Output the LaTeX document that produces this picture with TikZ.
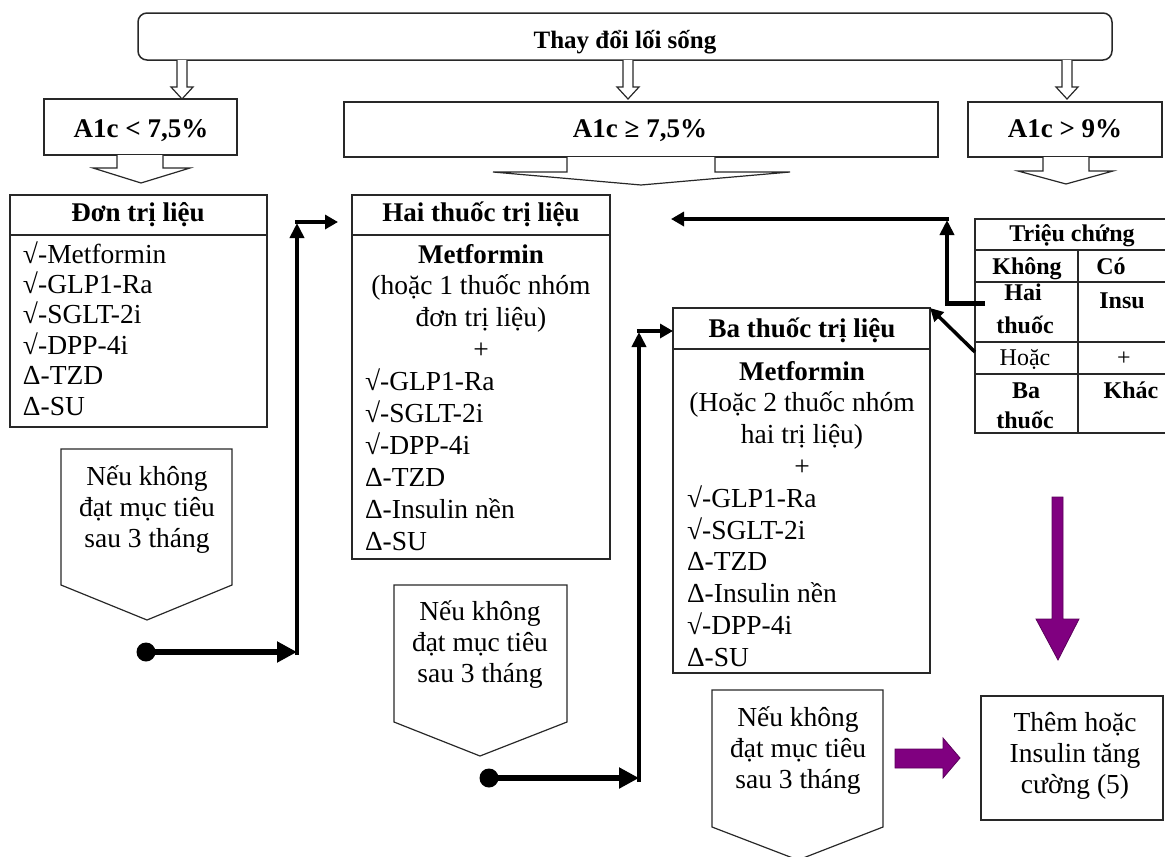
\documentclass[tikz,border=0pt]{standalone}
\usepackage{fontspec}
\setmainfont{Liberation Serif}
\usetikzlibrary{arrows.meta}
\definecolor{purp}{RGB}{128,0,128}
\definecolor{edge}{RGB}{40,40,40}
\newcommand\fbody{\fontsize{27.5}{31}\selectfont}
\newcommand\fhead{\fontsize{27}{31}\selectfont\bfseries}
\newcommand\ftop{\fontsize{25}{30}\selectfont\bfseries}
\newcommand\ftab{\fontsize{24}{28}\selectfont}
\begin{document}
\begin{tikzpicture}[x=1pt,y=-1pt,
  every node/.style={inner sep=0pt,outer sep=0pt},
  frame/.style={draw=edge,line width=1.5pt},
  pent/.style={draw=edge,line width=1.2pt,line join=miter},
  hollow/.style={draw=edge,line width=1.2pt,fill=white,line join=miter},
  txt/.style={font=\fbody,anchor=base},
  txtl/.style={font=\fbody,anchor=base west},
  head/.style={font=\fhead,anchor=base},
  tab/.style={font=\ftab,anchor=base},
  tabb/.style={font=\ftab\bfseries,anchor=base},
  dotnode/.style={circle,fill=black,minimum size=19pt},
  hconn/.style={line width=6pt,-{Triangle[length=20pt,width=20pt]}},
  vconn/.style={line width=4.5pt,-{Triangle[length=15pt,width=14pt]}},
  tconn/.style={line width=4.5pt,-{Triangle[length=13pt,width=14pt]}},
  dconn/.style={line width=3.5pt,-{Triangle[length=13pt,width=13pt]}},
  purparrow/.style={fill=purp,draw=purp!70!black,line width=0.8pt,line join=miter}
]
\useasboundingbox (0,0) rectangle (1165,857);

% top box
\node[frame,rounded corners=9pt,minimum width=974pt,minimum height=47pt,anchor=north west] (life) at (138,13) {};
\node[font=\ftop,anchor=base] (lifet) at (625,48) {Thay đổi lối sống};

% small hollow arrows
\foreach \cx in {182,628,1067}{
  \draw[hollow] (\cx-5,60) -- (\cx-5,87) -- (\cx-11,87) -- (\cx,99) -- (\cx+11,87) -- (\cx+5,87) -- (\cx+5,60);
}

% A1c boxes
\node[frame,minimum width=193pt,minimum height=56pt,anchor=north west] (a1) at (44,99) {};
\node[head] (a1t) at (141,137) {A1c < 7,5\%};
\node[frame,minimum width=594pt,minimum height=55pt,anchor=north west] (a2) at (344,102) {};
\node[head] (a2t) at (640,137) {A1c ≥ 7,5\%};
\node[frame,minimum width=194pt,minimum height=55pt,anchor=north west] (a3) at (968,102) {};
\node[head] (a3t) at (1065,137) {A1c > 9\%};

% block arrows under A1c boxes
\draw[hollow] (117,155) -- (117,168) -- (93,168) -- (141,183) -- (190,168) -- (163,168) -- (163,155);
\draw[hollow] (567,157) -- (567,172) -- (493,172) -- (641,185) -- (790,172) -- (715,172) -- (715,157);
\draw[hollow] (1043,157) -- (1043,171) -- (1018,171) -- (1066,184) -- (1113,171) -- (1089,171) -- (1089,157);

% Don tri lieu
\node[frame,minimum width=257pt,minimum height=232pt,anchor=north west] (don) at (10,195) {};
\draw[frame] (don.west |- 0,235) -- (don.east |- 0,235);
\node[head] (dont) at (138,221) {Đơn trị liệu};
\foreach \t [count=\i from 0] in {√-Metformin,√-GLP1-Ra,√-SGLT-2i,√-DPP-4i,Δ-TZD,Δ-SU}{
  \node[txtl] (don-\i) at (23,263+30.4*\i) {\t};
}

% Hai thuoc tri lieu
\node[frame,minimum width=258pt,minimum height=364pt,anchor=north west] (hai) at (352,195) {};
\draw[frame] (hai.west |- 0,235) -- (hai.east |- 0,235);
\node[head] (hait) at (481,221) {Hai thuốc trị liệu};
\node[head] (hai-0) at (481,263) {Metformin};
\node[txt] (hai-1) at (481,294.9) {(hoặc 1 thuốc nhóm};
\node[txt] (hai-2) at (481,326.8) {đơn trị liệu)};
\node[txt] (hai-3) at (481,358.7) {+};
\foreach \t [count=\i from 4] in {√-GLP1-Ra,√-SGLT-2i,√-DPP-4i,Δ-TZD,Δ-Insulin nền,Δ-SU}{
  \node[txtl] (hai-\i) at (365,263+31.9*\i) {\t};
}

% Ba thuoc tri lieu
\node[frame,minimum width=257pt,minimum height=365pt,anchor=north west] (ba) at (673,308) {};
\draw[frame] (ba.west |- 0,349) -- (ba.east |- 0,349);
\node[head] (bat) at (802,337) {Ba thuốc trị liệu};
\node[head] (ba-0) at (802,380) {Metformin};
\node[txt] (ba-1) at (802,411.8) {(Hoặc 2 thuốc nhóm};
\node[txt] (ba-2) at (802,443.6) {hai trị liệu)};
\node[txt] (ba-3) at (802,475.4) {+};
\foreach \t [count=\i from 4] in {√-GLP1-Ra,√-SGLT-2i,Δ-TZD,Δ-Insulin nền,√-DPP-4i,Δ-SU}{
  \node[txtl] (ba-\i) at (687,380+31.8*\i) {\t};
}

% table
\node[frame,minimum width=192pt,minimum height=214pt,anchor=north west] (tbl) at (975,219) {};
\foreach \yy in {250,282,342,374}{\draw[frame] (975,\yy) -- (1167,\yy);}
\draw[frame] (1078,250) -- (1078,433);
\node[tabb] (tb-h) at (1072,241) {Triệu chứng};
\node[tabb] (tb-k) at (1027,274) {Không};
\node[tabb] (tb-c) at (1111,274) {Có};
\node[tabb] (tb-h1) at (1023,300) {Hai};
\node[tabb] (tb-h2) at (1025,333) {thuốc};
\node[tabb] (tb-i) at (1122,308) {Insu};
\node[tab] (tb-o) at (1025,365) {Hoặc};
\node[tab] (tb-p) at (1124,365) {+};
\node[tabb] (tb-b1) at (1026,398) {Ba};
\node[tabb] (tb-b2) at (1025,428) {thuốc};
\node[tabb] (tb-kh) at (1131,398) {Khác};

% pentagons
\draw[pent] (61,449) -- (232,449) -- (232,585) -- (147,620) -- (61,585) -- cycle;
\node[txt] (p1a) at (147,485) {Nếu không};
\node[txt] (p1b) at (147,516) {đạt mục tiêu};
\node[txt] (p1c) at (147,547) {sau 3 tháng};
\draw[pent] (394,585) -- (567,585) -- (567,722) -- (480,756) -- (394,722) -- cycle;
\node[txt] (p2a) at (480,620) {Nếu không};
\node[txt] (p2b) at (480,651) {đạt mục tiêu};
\node[txt] (p2c) at (480,682) {sau 3 tháng};
\draw[pent] (712,690) -- (883,690) -- (883,827) -- (798,860) -- (712,827) -- cycle;
\node[txt] (p3a) at (798,726) {Nếu không};
\node[txt] (p3b) at (798,757) {đạt mục tiêu};
\node[txt] (p3c) at (798,788) {sau 3 tháng};

% final box
\node[frame,minimum width=182pt,minimum height=124pt,anchor=north west] (fin) at (981,696) {};
\node[txt] (fin-a) at (1075,731) {Thêm hoặc};
\node[txt] (fin-b) at (1075,762) {Insulin tăng};
\node[txt] (fin-c) at (1075,793) {cường (5)};

% connector 1
\node[dotnode] (dot1) at (146,652) {};
\coordinate (v1b) at (297,655);
\coordinate (v1t) at (297,223);
\coordinate (e1) at (338,222);
\draw[hconn] (dot1.center) -- (v1b |- dot1.center);
\draw[vconn] (v1b) -- (v1t);
\draw[tconn] ([xshift=-2.25pt]v1t |- e1) -- (e1);

% connector 2
\node[dotnode] (dot2) at (489,778) {};
\coordinate (v2b) at (639,782);
\coordinate (v2t) at (639,332);
\draw[hconn] (dot2.center) -- (v2b |- dot2.center);
\draw[vconn] (v2b) -- (v2t);
\draw[tconn] ([xshift=-2.25pt]v2t |- 0,331) -- (ba.west |- 0,331);

% connector from table
\coordinate (t1) at (985,303);
\coordinate (t2) at (947,303);
\coordinate (t3) at (947,220);
\coordinate (e3) at (671,219);
\draw[line width=5pt] (t1) -- ([xshift=-2.5pt]t2);
\draw[vconn] ([yshift=2pt]t2) -- (t3);
\draw[tconn] ([xshift=2.25pt]t3 |- e3) -- (e3);
\coordinate (t4) at (975,352);
\draw[dconn] (t4) -- (ba.north east);

% purple arrows
\draw[purparrow] (1052,497) -- (1063,497) -- (1063,619) -- (1079,619) -- (1058,660) -- (1036,619) -- (1052,619) -- cycle;
\draw[purparrow] (895,749) -- (943,749) -- (943,738) -- (960,758) -- (943,778) -- (943,768) -- (895,768) -- cycle;
\end{tikzpicture}
\end{document}
